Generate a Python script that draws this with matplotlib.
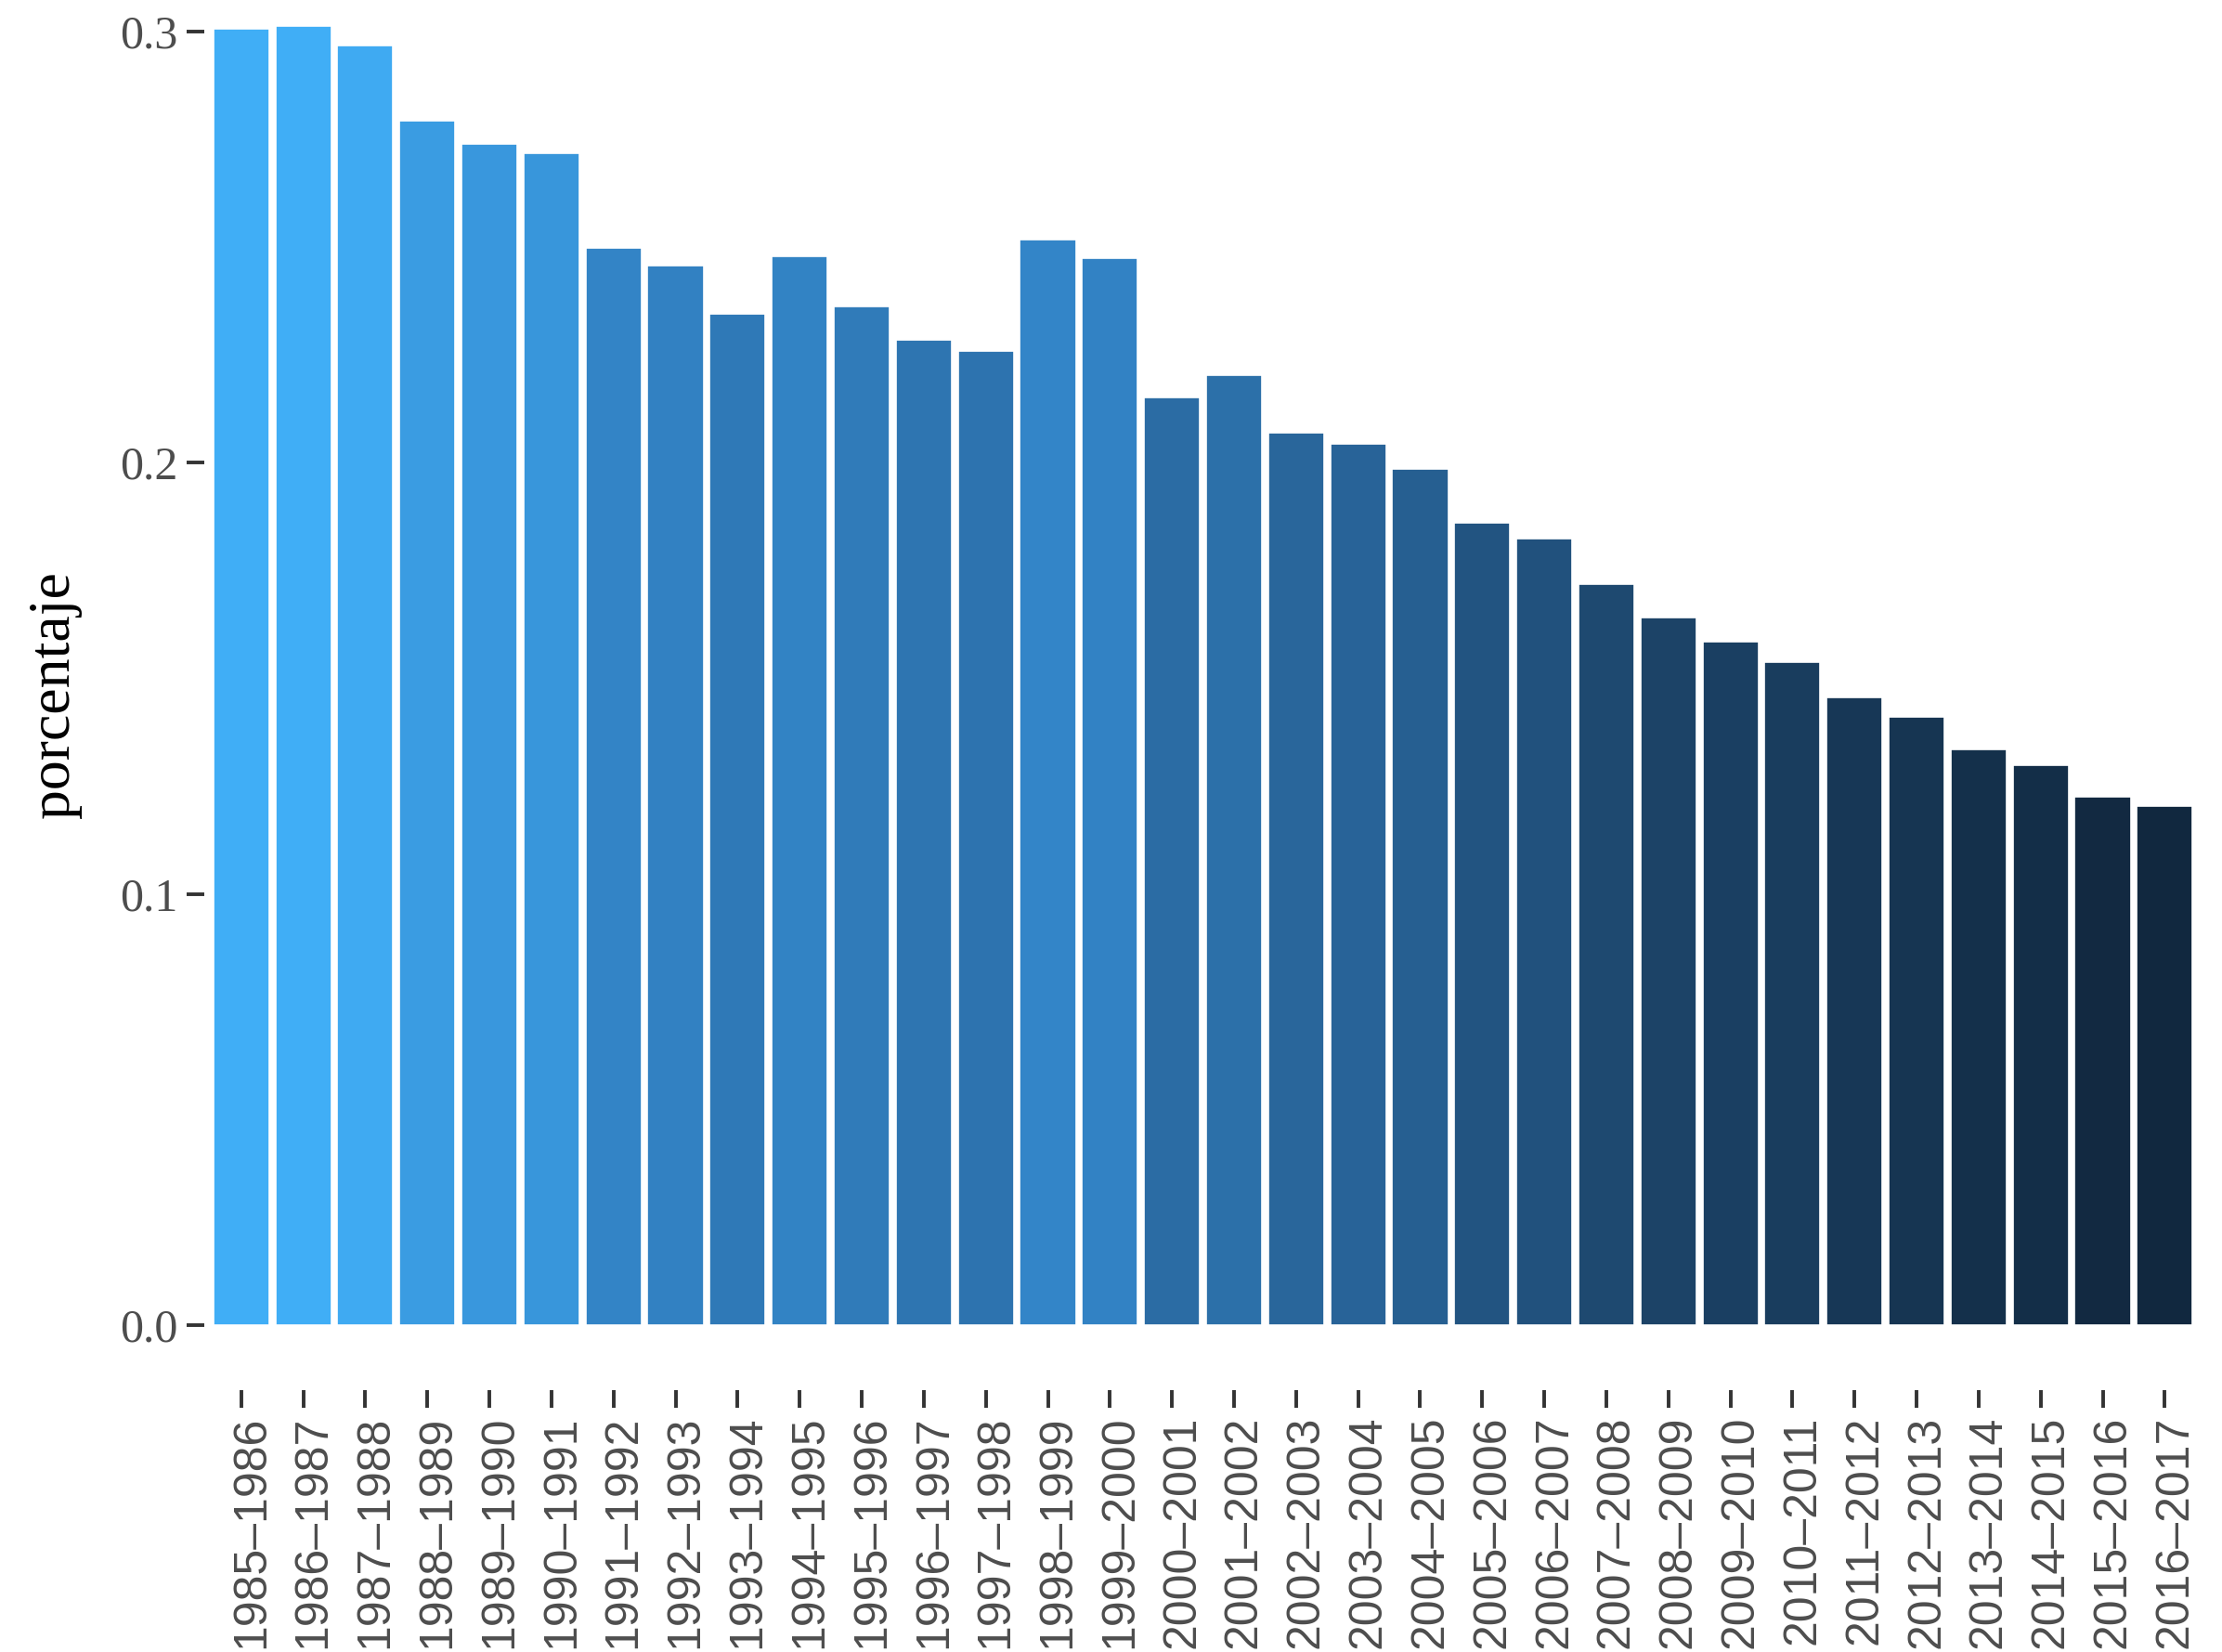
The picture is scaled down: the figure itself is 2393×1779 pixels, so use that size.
import matplotlib
matplotlib.use("Agg")
import matplotlib.pyplot as plt
import matplotlib.transforms as mtransforms
from matplotlib.colors import LinearSegmentedColormap, Normalize

# periodos y porcentaje
periodos = ["1985–1986", "1986–1987", "1987–1988", "1988–1989", "1989–1990",
            "1990–1991", "1991–1992", "1992–1993", "1993–1994", "1994–1995",
            "1995–1996", "1996–1997", "1997–1998", "1998–1999", "1999–2000",
            "2000–2001", "2001–2002", "2002–2003", "2003–2004", "2004–2005",
            "2005–2006", "2006–2007", "2007–2008", "2008–2009", "2009–2010",
            "2010–2011", "2011–2012", "2012–2013", "2013–2014", "2014–2015",
            "2015–2016", "2016–2017"]
porcentaje = [0.3007, 0.3013, 0.2967, 0.2793, 0.2740, 0.2718, 0.2497, 0.2458,
              0.2346, 0.2478, 0.2363, 0.2284, 0.2258, 0.2517, 0.2475, 0.2152,
              0.2202, 0.2070, 0.2044, 0.1985, 0.1860, 0.1824, 0.1719, 0.1640,
              0.1584, 0.1538, 0.1456, 0.1410, 0.1334, 0.1298, 0.1226, 0.1203]
yticks = [0.0, 0.1, 0.2, 0.3]
ytick_labels = ["0.0", "0.1", "0.2", "0.3"]

# degradado tipo ggplot (azul oscuro -> azul claro)
cmap = LinearSegmentedColormap.from_list(
    "gg", ["#11283F", "#1C4469", "#2A69A0", "#3488CC", "#40AEF6"])
norm = Normalize(vmin=min(porcentaje), vmax=max(porcentaje))
colores = [cmap(norm(v)) for v in porcentaje]

fig = plt.figure(figsize=(23.93, 17.79), dpi=100)
ax = fig.add_axes([0.0918, 0.1585, 0.8992, 0.8415])

x = list(range(len(periodos)))
ax.bar(x, porcentaje, width=0.9, color=colores, edgecolor="white", linewidth=1.2)

ax.set_xlim(-0.6, len(periodos) - 0.4)
ax.set_ylim(-0.0151, 0.3073)

for s in ax.spines.values():
    s.set_visible(False)

ax.set_yticks(yticks)
ax.set_yticklabels(ytick_labels, fontfamily="Liberation Serif", fontsize=36,
                   color="#4D4D4D")
ax.set_xticks(x)
ax.set_xticklabels(periodos, rotation=90, fontfamily="Liberation Sans",
                   fontsize=36, color="#4D4D4D")
ax.tick_params(axis="both", length=14, width=2.8, color="#333333", pad=6)

# desplazar un poco las etiquetas del eje x a la derecha
offset = mtransforms.ScaledTranslation(0.11, 0, fig.dpi_scale_trans)
for lab in ax.get_xticklabels():
    lab.set_transform(lab.get_transform() + offset)

ax.set_ylabel("porcentaje", fontfamily="Liberation Serif", fontsize=46,
              color="black", labelpad=30)

fig.savefig("out.png", dpi=100, facecolor="white")
